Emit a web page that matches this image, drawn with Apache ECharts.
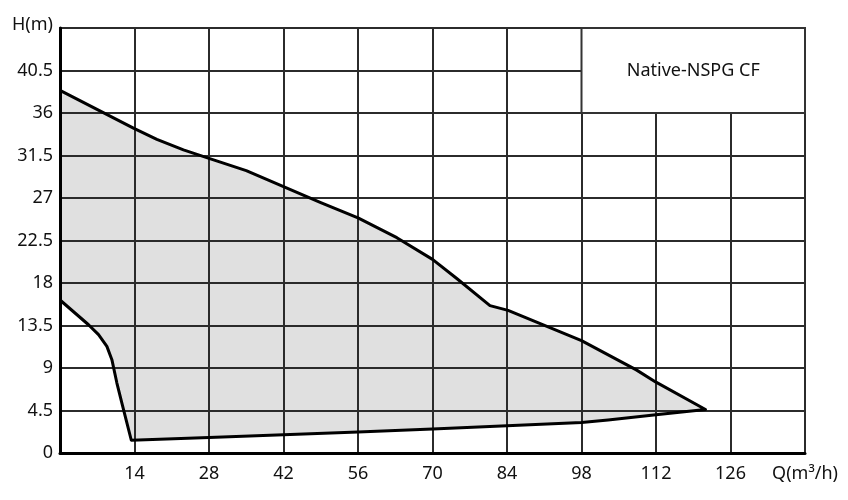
<!DOCTYPE html>
<html>
<head>
<meta charset="utf-8">
<script src="https://cdn.jsdelivr.net/npm/echarts@6/dist/echarts.min.js"></script>
<style>
  html, body { margin: 0; padding: 0; background: #fff; }
  #chart { width: 848px; height: 500px; }
</style>
</head>
<body>
<div id="chart"></div>
<script>
// upper boundary (max head), from Q=0 to the tip
const upperQ = [0, 13.8, 18.2, 23.2, 28, 35, 42, 49, 56, 63.3, 70, 74.5, 80.8, 84.2, 98, 108.3, 112, 121.3];
const upperH = [38.4, 34.4, 33.2, 32.1, 31.2, 29.9, 28.2, 26.5, 24.9, 22.8, 20.5, 18.5, 15.6, 15.1, 11.9, 8.8, 7.5, 4.6];
// lower boundary, from the tip back to the min point
const lowerQ = [121.3, 112, 103, 98, 84, 70, 56, 28, 13.4];
const lowerH = [4.6, 4.05, 3.5, 3.24, 2.89, 2.54, 2.22, 1.65, 1.35];
// left boundary, from the min point up to Q=0
const leftQ = [13.4, 12.57, 11.63, 10.69, 9.75, 8.81, 7.24, 5.36, 0];
const leftH = [1.35, 3.18, 5.29, 7.41, 9.88, 11.29, 12.53, 13.58, 16.2];

const xTicks = [0, 14, 28, 42, 56, 70, 84, 98, 112, 126, 140];
const yTicks = [0, 4.5, 9, 13.5, 18, 22.5, 27, 31.5, 36, 40.5, 45];
const seriesName = "Native-NSPG CF";

const pairs = (qs, hs) => qs.map((q, i) => [q, hs[i]]);
const outline = [
  ...pairs(upperQ, upperH),
  ...pairs(lowerQ, lowerH).slice(1),
  ...pairs(leftQ, leftH).slice(1),
];

const font = "Noto Sans";
const chart = echarts.init(document.getElementById("chart"));

const option = {
  animation: false,
  grid: {
    left: 60,
    right: 43,
    top: 28,
    bottom: 47,
    show: true,
    borderColor: "#333",
    borderWidth: 2,
  },
  xAxis: {
    type: "value",
    min: xTicks[0],
    max: xTicks[xTicks.length - 1],
    interval: 14,
    z: 3,
    axisLine: { show: true, lineStyle: { color: "#000", width: 3 } },
    axisTick: { show: false },
    axisLabel: {
      margin: 12,
      fontSize: 18,
      fontFamily: font,
      color: "#111",
      showMinLabel: true,
      showMaxLabel: true,
      formatter: (v) => (v === 0 ? "" : v === 140 ? "Q(m³/h)" : String(v)),
    },
    splitLine: { show: true, lineStyle: { color: "#2b2b2b", width: 2 } },
  },
  yAxis: {
    type: "value",
    min: yTicks[0],
    max: yTicks[yTicks.length - 1],
    interval: 4.5,
    z: 3,
    axisLine: { show: true, lineStyle: { color: "#000", width: 3 } },
    axisTick: { show: false },
    axisLabel: {
      margin: 7,
      fontSize: 18,
      fontFamily: font,
      color: "#111",
      showMinLabel: true,
      showMaxLabel: true,
      formatter: (v) => (v === 45 ? "{h|H(m)}" : String(+v.toFixed(1))),
      rich: { h: { fontSize: 18, fontFamily: font, color: "#111", padding: [0, 0, 6, 0] } },
    },
    splitLine: { show: true, lineStyle: { color: "#2b2b2b", width: 2 } },
  },
  series: [
    {
      // shaded operating range
      type: "custom",
      z: 1,
      data: [0],
      renderItem: (params, api) => ({
        type: "polygon",
        shape: { points: outline.map((p) => api.coord(p)) },
        style: { fill: "#e0e0e0", stroke: "none" },
      }),
    },
    {
      type: "line",
      z: 4,
      data: outline,
      symbol: "none",
      lineStyle: { color: "#000", width: 3, join: "round" },
    },
    {
      // label box in the top-right cells
      type: "custom",
      z: 5,
      data: [0],
      renderItem: (params, api) => {
        const a = api.coord([98, 45]);
        const b = api.coord([140, 36]);
        return {
          type: "group",
          children: [
            {
              type: "rect",
              shape: { x: a[0], y: a[1], width: b[0] - a[0], height: b[1] - a[1] },
              style: { fill: "#fff", stroke: "#333", lineWidth: 2 },
            },
            {
              type: "text",
              x: (a[0] + b[0]) / 2,
              y: (a[1] + b[1]) / 2,
              style: {
                text: seriesName,
                fontSize: 18,
                fontFamily: font,
                fill: "#111",
                align: "center",
                verticalAlign: "middle",
              },
            },
          ],
        };
      },
    },
  ],
};

chart.setOption(option);
</script>
</body>
</html>
